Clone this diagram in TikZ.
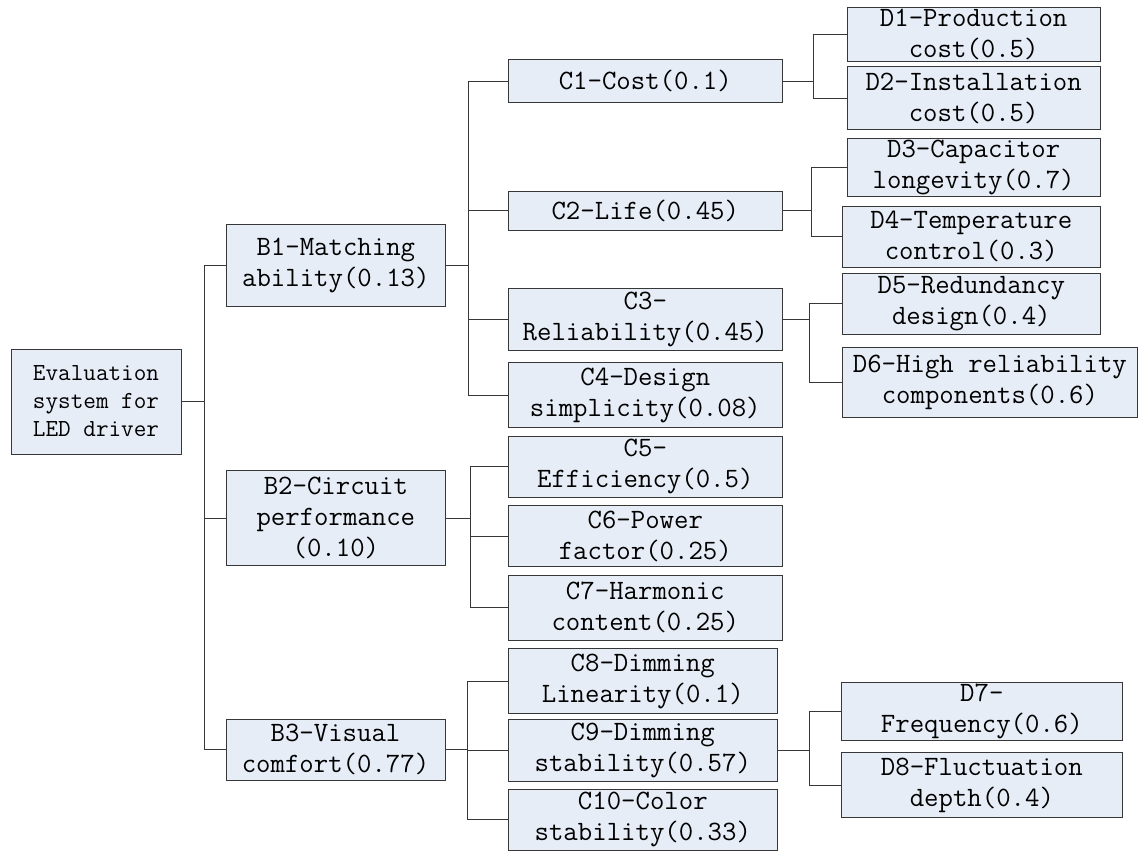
\documentclass[tikz,border=0pt]{standalone}
\usepackage{fontspec}
\definecolor{boxfill}{RGB}{231,237,247}
\definecolor{edge}{RGB}{55,55,55}
\tikzset{
  box/.style={draw=edge, fill=boxfill, line width=1pt, inner sep=0pt, outer sep=0pt,
    align=center, font=\fontsize{28}{31}\selectfont\ttfamily},
  rootbox/.style={box, font=\fontsize{24.5}{28}\selectfont\ttfamily},
  link/.style={draw=edge, line width=1pt}
}
\newcommand\bx[7][box]{\node[#1, minimum width={(#5)-(#3)}, minimum height={(#6)-(#4)}]
  (#2) at ({((#3)+(#5))/2},{((#4)+(#6))/2}) {#7};}
\begin{document}
\begin{tikzpicture}[x=1pt,y=-1pt]
\useasboundingbox (0,0) rectangle (1138,853);
\bx[rootbox]{R}{11}{349}{181}{454}{Evaluation\\system for\\LED driver}
\bx{B1}{226}{224.7}{445.7}{306.3}{B1-Matching\\ability(0.13)}
\bx{B2}{226}{470.7}{445.7}{565.3}{B2-Circuit\\performance\\(0.10)}
\bx{B3}{226}{719}{445}{780.7}{B3-Visual\\comfort(0.77)}
\bx{C1}{508.3}{59.7}{782.3}{103}{C1-Cost(0.1)}
\bx{C2}{508.3}{191.3}{782.3}{230.7}{C2-Life(0.45)}
\bx{C3}{508.3}{288.7}{782.3}{350.3}{C3-\\Reliability(0.45)}
\bx{C4}{508.3}{362.7}{782.3}{427.7}{C4-Design\\simplicity(0.08)}
\bx{C5}{508.3}{436.3}{782.3}{497.3}{C5-\\Efficiency(0.5)}
\bx{C6}{508.3}{505.7}{782.3}{566.7}{C6-Power\\factor(0.25)}
\bx{C7}{508.3}{575}{782.3}{640}{C7-Harmonic\\content(0.25)}
\bx{C8}{508.3}{648.7}{777.3}{713.7}{C8-Dimming\\Linearity(0.1)}
\bx{C9}{508.3}{719.7}{777.3}{781}{C9-Dimming\\stability(0.57)}
\bx{C10}{508.3}{789}{777.3}{850.3}{C10-Color\\stability(0.33)}
\bx{D1}{847}{7.7}{1100.3}{62}{D1-Production\\cost(0.5)}
\bx{D2}{847}{67}{1100.3}{130}{D2-Installation\\cost(0.5)}
\bx{D3}{847}{138.3}{1100.3}{197}{D3-Capacitor\\longevity(0.7)}
\bx{D4}{842.3}{206.3}{1100.3}{267}{D4-Temperature\\control(0.3)}
\bx{D5}{842.3}{273.3}{1100.3}{334}{D5-Redundancy\\design(0.4)}
\bx{D6}{842.3}{347.7}{1137.5}{417.7}{D6-High reliability\\components(0.6)}
\bx{D7}{841}{682.3}{1122.7}{740.7}{D7-\\Frequency(0.6)}
\bx{D8}{841}{752.3}{1122.7}{817.7}{D8-Fluctuation\\depth(0.4)}
% trunks
\coordinate (tR) at (R.east -| 204.3,0);
\coordinate (tB1) at (B1.east -| 468.7,0);
\coordinate (tB2) at (B2.east -| 470.3,0);
\coordinate (tB3) at (B3.east -| 467,0);
\coordinate (tC1) at (C1.east -| 813.3,0);
\coordinate (tC2) at (C2.east -| 811.3,0);
\coordinate (tC3) at (C3.east -| 809.7,0);
\coordinate (tC9) at (C9.east -| 809.3,0);
\draw[link] (R.east) -- (tR);
\foreach \c in {B1,B2,B3} \draw[link] (tR) |- (\c.west);
\draw[link] (B1.east) -- (tB1);
\foreach \c in {C1,C2,C3,C4} \draw[link] (tB1) |- (\c.west);
\draw[link] (B2.east) -- (tB2);
\foreach \c in {C5,C6,C7} \draw[link] (tB2) |- (\c.west);
\draw[link] (B3.east) -- (tB3);
\foreach \c in {C8,C9,C10} \draw[link] (tB3) |- (\c.west);
\draw[link] (C1.east) -- (tC1);
\foreach \c in {D1,D2} \draw[link] (tC1) |- (\c.west);
\draw[link] (C2.east) -- (tC2);
\foreach \c in {D3,D4} \draw[link] (tC2) |- (\c.west);
\draw[link] (C3.east) -- (tC3);
\foreach \c in {D5,D6} \draw[link] (tC3) |- (\c.west);
\draw[link] (C9.east) -- (tC9);
\foreach \c in {D7,D8} \draw[link] (tC9) |- (\c.west);
\end{tikzpicture}
\end{document}
